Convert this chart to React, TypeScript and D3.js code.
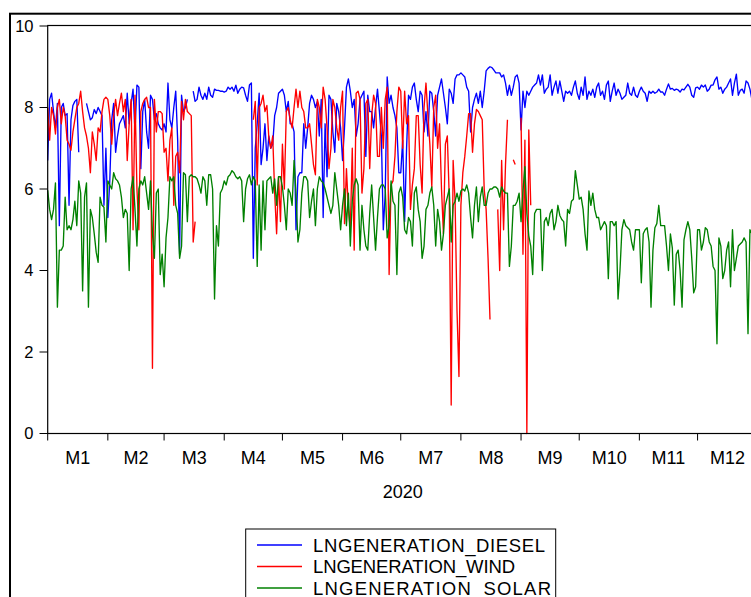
import React from "react";
import * as d3 from "d3";

// Daily log generation by source, 2020. One row per month (Jan..Dec), one value per day; null = missing.
const monthLabels = ["M1", "M2", "M3", "M4", "M5", "M6", "M7", "M8", "M9", "M10", "M11", "M12"];
const yTicks = [0, 2, 4, 6, 8, 10];
const yearLabel = "2020";
const seriesNames = ["LNGENERATION_DIESEL", "LNGENERATION_WIND", "LNGENERATION_SOLAR"];
const seriesColors = ["#0000ff", "#ff0000", "#008000"];

type V = number | null;

const diesel: V[][] = [
  [6.7, 8.2, 8.35, 7.9, 7.5, 8.1, 5.1, 8.0, 8.1, 7.8, 7.85, 5.6, 7.7, 8.05, 8.15, 8.2, 6.9, null, null, null, 8.1, 7.9, 7.7, 7.75, 7.95, 7.85, 8.0, 7.9, 7.8, 5.6, 7.0],
  [5.3, 6.2, 7.7, 8.1, 6.9, 7.3, 7.6, 7.7, 7.8, 7.5, 8.35, 7.6, 8.1, 8.45, 7.4, 8.55, 8.5, 6.5, 7.9, 8.2, 7.4, 7.0, 8.3, 8.2, 7.7, 7.85, 7.6, 7.5, 7.45],
  [7.6, 7.4, 8.6, 7.7, 7.5, 8.0, 8.4, 7.2, 4.4, 8.3, 7.9, 8.0, 8.2, null, null, 8.4, 8.15, 8.2, 8.5, 8.3, 8.2, 8.35, 8.2, 8.5, 8.3, 8.25, 8.45, 8.42, 8.42, 8.4, 8.4],
  [8.38, 8.4, 8.5, 8.45, 8.5, 8.4, 8.55, 8.35, 8.45, 8.5, 8.48, 8.3, 8.15, 8.55, 8.6, 4.3, 7.0, 7.6, 8.35, 6.6, 7.0, 7.6, 6.7, 7.3, 7.0, 7.1, 7.8, 8.0, 8.35, 8.4],
  [8.45, 8.3, 7.9, 8.15, 7.6, 7.6, 7.4, 5.0, 6.3, 6.4, 6.4, 7.6, 7.0, 7.5, 8.1, 8.3, 8.2, 8.0, 8.15, 7.3, 8.2, 5.3, 7.6, 6.3, 8.3, 8.2, 7.4, 6.9, 8.1, 7.9, 7.5],
  [6.7, 7.5, 8.5, 8.7, 8.4, 8.0, 8.2, 7.3, 7.6, 8.2, 8.3, 8.4, 6.8, 8.3, 7.9, 7.9, 7.5, 8.0, 8.45, 7.9, 7.3, 5.0, 5.9, 8.75, 8.1, 8.3, 8.0, 7.8, 7.5, 6.4],
  [6.4, 7.2, 5.2, 7.0, 8.3, 8.2, 8.5, 8.6, 8.2, 7.9, 8.4, 8.3, 7.4, 7.9, 7.3, 8.4, 8.35, 7.9, 7.3, 8.3, 8.5, 8.7, 8.35, 8.0, 7.6, 8.45, 8.35, 8.1, 8.7, 8.8, 8.8],
  [8.85, 8.8, 8.75, 8.5, 8.4, 7.4, 8.0, 8.2, 8.35, 8.1, 8.4, 8.0, 8.4, 8.9, 8.96, 9.0, 8.98, 8.92, 8.85, 8.85, 8.85, 8.75, 8.8, 8.6, 8.3, 8.55, 8.3, 8.5, 8.75, 8.8, 8.6],
  [7.45, 8.4, 8.0, 8.4, 8.3, 8.4, 8.5, 8.55, 8.6, 8.8, 8.55, 8.8, 8.35, 8.45, 8.5, 8.8, 8.3, 8.5, 8.65, 8.35, 8.65, 8.4, 8.15, 8.4, 8.35, 8.4, 8.3, 8.5, 8.65, 8.35],
  [8.2, 8.5, 8.3, 8.75, 8.2, 8.4, 8.3, 8.45, 8.25, 8.5, 8.6, 8.3, 8.4, 8.2, 8.55, 8.65, 8.15, 8.4, 8.6, 8.3, 8.45, 8.35, 8.2, 8.25, 8.3, 8.6, 8.35, 8.3, 8.5, 8.3, 8.25],
  [8.4, 8.5, 8.4, 8.35, 8.15, 8.4, 8.35, 8.4, 8.35, 8.38, 8.45, 8.38, 8.38, 8.3, 8.45, 8.58, 8.45, 8.47, 8.42, 8.45, 8.43, 8.38, 8.45, 8.43, 8.5, 8.57, 8.5, 8.3, 8.25, 8.48],
  [8.5, 8.45, 8.55, 8.5, 8.55, 8.4, 8.45, 8.55, 8.55, 8.68, 8.75, 8.45, 8.5, 8.35, 8.45, 8.5, 8.6, 8.7, 8.3, 8.6, 8.82, 8.3, 8.42, 8.45, 8.35, 8.65, 8.6, 8.45, 8.2, 8.4, 8.3],
];

const wind: V[][] = [
  [8.0, 7.2, 8.0, 7.8, 7.35, 8.0, 8.2, 7.6, 8.0, 7.8, 7.2, 7.1, 6.95, 7.4, 7.7, 8.0, 8.1, 8.4, 7.9, 7.5, 7.3, 7.0, 6.4, 7.4, 7.1, 6.7, 7.5, 7.4, 7.9, 8.2, 8.25],
  [8.2, 7.8, 7.1, 7.8, 8.2, 7.8, 8.1, 8.35, 7.9, 8.2, 6.7, 7.6, 8.2, 5.0, 8.3, 6.0, 5.0, 7.9, 8.1, 8.2, 8.25, 8.0, 8.0, 1.6, 8.2, 7.4, 7.9, 7.9, 7.85],
  [6.9, 7.0, 6.2, 7.2, 7.5, 5.6, 6.8, 6.9, 6.4, 8.15, 7.7, 8.2, 7.9, 7.85, 7.8, 4.7, 5.2, null, null, null, null, null, null, null, null, null, null, null, null, null, null],
  [null, null, null, null, null, null, null, null, null, null, null, null, null, null, null, 7.7, 8.15, 6.1, 8.0, 8.1, 8.3, 7.9, 8.05, 7.25, 7.0, 7.3, 5.9, 4.9, 6.3, 5.2],
  [7.1, 6.0, 7.9, 8.0, 7.7, 7.5, 8.0, 8.45, 8.0, 8.4, 8.0, 7.9, 7.5, 7.5, 7.6, 7.1, 6.6, 6.35, 8.2, 8.0, 7.5, 8.5, 8.2, 7.5, 6.5, 7.0, 8.2, 8.0, 7.5, 7.2, 8.0],
  [8.4, 5.15, 6.5, 5.5, 5.0, 7.0, 4.5, 8.35, 8.4, 8.2, 5.9, 6.5, 8.1, 8.2, 6.5, 7.8, 8.3, 8.1, 6.8, 6.8, 8.0, 7.0, 8.2, 8.5, 3.9, 6.1, 6.2, 6.8, 7.9, 8.5],
  [8.4, 7.0, 8.4, 7.6, 7.8, 5.5, 6.1, 6.5, 7.8, 7.8, 6.6, 5.9, 8.0, 8.6, 7.8, 7.1, 6.05, 8.0, 8.3, 7.0, 7.6, 6.0, 4.9, 7.1, 7.3, 5.8, 0.7, 6.7, 5.7, 3.0, 1.4],
  [5.6, 6.4, 6.8, 7.3, 7.85, 7.85, 6.9, 7.6, 7.95, 7.9, 7.8, 7.7, 6.0, 5.5, 4.3, 2.8, null, null, null, 5.5, 4.0, 6.7, 5.0, 6.6, 7.7, null, null, 6.72, 6.6, null, null],
  [7.75, 4.4, 7.2, 0.0, 7.45, 5.6],
  [],
  [],
  [],
];

const solar: V[][] = [
  [5.97, 5.5, 5.25, 5.5, 6.15, 3.1, 4.5, 4.5, 4.6, 5.8, 5.0, 5.1, 5.0, 5.25, 5.7, 5.1, 6.2, 5.9, 3.5, 5.8, 6.15, 3.1, 5.5, 5.3, 4.9, 4.45, 4.2, 5.8, 5.6, 5.55, 4.7],
  [6.2, 6.1, 6.0, 6.4, 6.25, 6.2, 6.1, 5.8, 5.3, 5.5, 5.4, 4.0, 6.0, 6.3, 5.5, 4.6, 6.0, 6.2, 6.1, 6.3, 5.9, 5.5, 6.2, 4.9, 4.3, 5.9, 6.0, 3.9, 4.4],
  [3.6, 4.8, 5.3, 6.3, 6.2, 6.3, 5.6, 5.4, 4.3, 4.6, 6.4, 6.35, 5.2, 6.3, 6.35, 6.3, 6.3, 6.25, 6.1, 5.9, 6.3, 6.2, 5.6, 6.35, 6.35, 6.0, 3.3, 5.1, 4.6, 5.9, 6.0],
  [6.2, 6.1, 6.3, 6.35, 6.45, 6.4, 6.3, 6.25, 6.3, 6.2, 5.2, 6.0, 6.25, 6.35, 6.1, 6.3, 6.2, 4.1, 6.1, 4.5, 6.2, 5.0, 6.2, 6.25, 6.3, 5.9, 6.25, 5.6, 6.3, 6.3],
  [6.05, 5.6, 5.0, 6.0, 5.9, 5.6, 6.7, 5.9, 4.7, 5.0, 5.9, 6.3, 6.3, 6.2, 5.3, 5.7, 6.0, 5.1, 6.0, 6.3, 6.2, 6.15, 6.0, 5.8, 5.6, 5.4, 5.6, 6.4, 6.0, 5.6, 5.0],
  [5.6, 6.0, 5.1, 5.9, 4.6, 5.7, 6.1, 6.25, 6.1, 4.5, 5.6, 5.0, 4.6, 4.5, 5.4, 6.1, 5.3, 4.5, 5.3, 6.0, 6.1, 6.1, 6.0, 4.8, 5.1, 6.2, 5.7, 5.6, 3.9, 5.9],
  [6.05, 5.8, 5.0, 4.9, 5.3, 5.2, 4.6, 5.9, 6.05, 5.5, 5.2, 4.3, 4.6, 5.5, 5.6, 5.9, 6.05, 5.6, 4.6, 5.5, 5.2, 4.5, 4.9, 5.6, 5.8, 6.0, 4.7, 5.6, 5.7, 5.9, 5.7],
  [5.95, 6.0, 5.95, 6.1, 5.9, 5.3, 4.8, 5.6, 6.05, 5.2, 5.8, 6.05, 5.6, 5.6, 5.9, 6.0, 6.0, 6.05, 6.05, 6.0, 5.8, 6.05, 5.95, 5.9, 5.9, 4.1, 4.6, 5.6, 5.6, 5.7, 5.9],
  [5.2, 5.95, 6.55, 5.4, 4.85, 4.6, 3.9, 5.4, 5.5, 5.5, 5.5, 4.0, 5.2, 5.3, 5.1, 5.4, 5.5, 5.0, 5.2, 5.6, 5.35, 5.25, 5.2, 4.6, 5.5, 5.4, 5.7, 5.75, 6.45, 6.1],
  [5.75, 5.8, 5.5, 4.9, 4.5, 5.95, 5.6, 5.9, 5.5, 5.3, 5.3, 5.0, 5.1, 5.2, 5.1, 3.8, 5.2, 5.2, 5.1, 5.2, 3.3, 4.0, 5.0, 5.25, 5.1, 5.05, 5.0, 4.7, 4.5, 5.0, 5.0],
  [5.0, 3.7, 4.9, 5.0, 5.05, 4.7, 3.1, 4.5, 5.05, 5.15, 5.6, 5.1, 5.1, 5.1, 4.6, 4.0, 4.9, 4.55, 3.15, 4.4, 4.5, 4.0, 3.1, 4.75, 5.0, 5.2, 5.0, 4.3, 3.45, 3.6],
  [5.0, 5.0, 4.5, 4.7, 5.05, 5.0, 4.7, 4.6, 4.1, 4.0, 2.2, 4.8, 4.6, 3.8, 4.0, 4.5, 4.7, 3.6, 5.0, 4.0, 4.3, 4.6, 4.65, 4.7, 4.8, 4.7, 2.45, 5.0, 4.9, 5.0, 4.8],
];

const seriesData = [diesel, wind, solar];
// legend label widths as typeset in the legend box
const legendWidths = [232, 202, 238];

type Pt = { date: Date; v: V };

function toPoints(rows: V[][]): Pt[] {
  const pts: Pt[] = [];
  rows.forEach((row, m) => row.forEach((v, i) => pts.push({ date: new Date(2020, m, i + 1), v })));
  return pts;
}

const FONT = "'Liberation Sans', Arial, Helvetica, sans-serif";

export default function App() {
  const W = 751;
  const H = 597;
  const left = 47.7;
  const top = 25.5;
  const bottom = 433.5;

  const start = new Date(2020, 0, 1);
  const end = new Date(2021, 0, 1);
  const x = d3.scaleTime().domain([start, end]).range([left, 757.7]);
  const y = d3.scaleLinear().domain([0, 10]).range([bottom, 26]);

  const line = d3
    .line<Pt>()
    .defined((d) => d.v !== null && d.v !== undefined)
    .x((d) => x(d.date))
    .y((d) => y(d.v as number));

  const months = d3.timeMonth.range(start, end);
  const monthEdges = [...months, end];

  return (
    <svg
      width={W}
      height={H}
      style={{ position: "absolute", left: 0, top: 0, background: "#fff" }}
      fontFamily={FONT}
    >
      <rect x={0} y={0} width={W} height={H} fill="#fff" />
      {/* outer frame */}
      <rect x={10} y={13.7} width={900} height={800} fill="none" stroke="#000" strokeWidth={2} />

      {/* data lines */}
      {seriesData.map((rows, k) => (
        <path
          key={seriesNames[k]}
          d={line(toPoints(rows)) || ""}
          fill="none"
          stroke={seriesColors[k]}
          strokeWidth={1.35}
          strokeLinejoin="round"
        />
      ))}

      {/* plot frame */}
      <rect x={left} y={top} width={800} height={bottom - top} fill="none" stroke="#000" strokeWidth={1.2} />

      {/* y axis ticks and labels */}
      {yTicks.map((t) => (
        <g key={t}>
          <line x1={39.5} x2={left} y1={y(t)} y2={y(t)} stroke="#000" strokeWidth={1} />
          <text x={33.5} y={y(t) + 5.9} fontSize={16.5} textAnchor="end" fill="#000">
            {t}
          </text>
        </g>
      ))}

      {/* x axis month ticks */}
      {months.map((m) => (
        <line key={m.getTime()} x1={x(m)} x2={x(m)} y1={bottom} y2={bottom + 7} stroke="#000" strokeWidth={1} />
      ))}
      {months.map((m, i) => (
        <text
          key={"l" + i}
          x={(x(m) + x(monthEdges[i + 1])) / 2}
          y={464}
          fontSize={18}
          textAnchor="middle"
          fill="#000"
        >
          {monthLabels[i]}
        </text>
      ))}
      <text x={(left + 757.7) / 2} y={498.3} fontSize={18} textAnchor="middle" fill="#000">
        {yearLabel}
      </text>

      {/* legend */}
      <rect x={245.7} y={529} width={310} height={100} fill="#fff" stroke="#000" strokeWidth={1} />
      {seriesNames.map((name, k) => {
        const cy = 545 + k * 21.5;
        return (
          <g key={name}>
            <line x1={257} x2={302} y1={cy} y2={cy} stroke={seriesColors[k]} strokeWidth={1.3} />
            <text
              x={313}
              y={cy + 6.7}
              fontSize={18.5}
              fill="#000"
              textLength={legendWidths[k]}
              lengthAdjust="spacing"
            >
              {name}
            </text>
          </g>
        );
      })}
    </svg>
  );
}
